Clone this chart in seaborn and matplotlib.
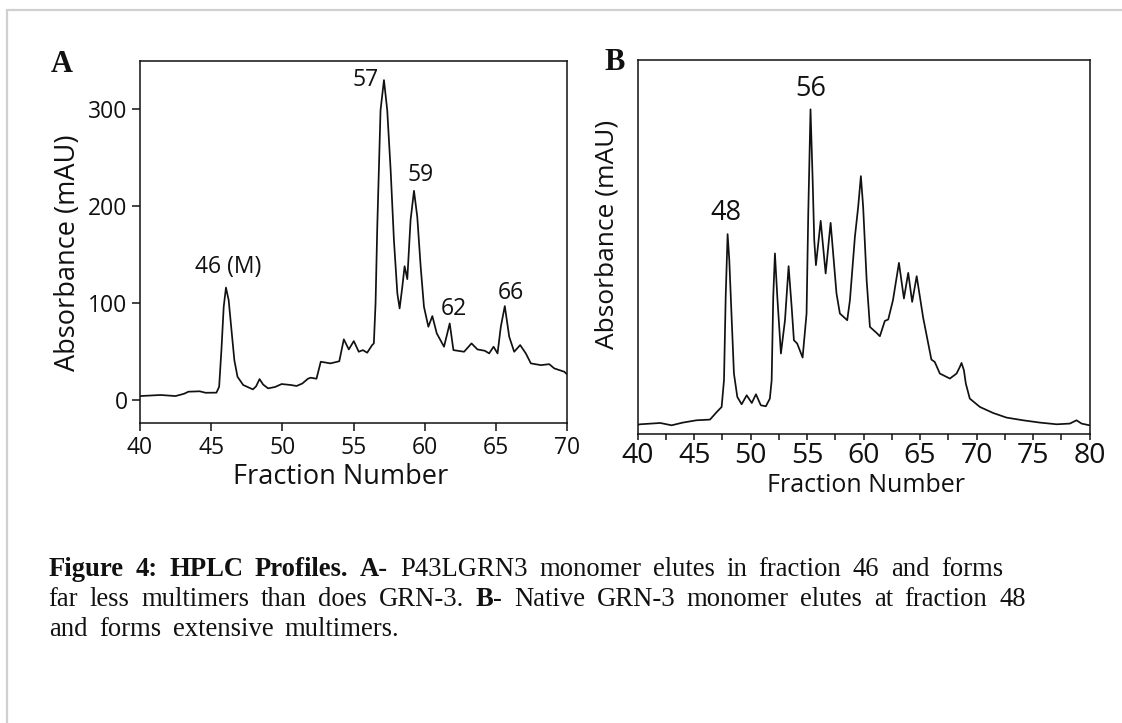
import matplotlib
matplotlib.use("Agg")
import matplotlib.pyplot as plt
import seaborn as sns
from matplotlib.lines import Line2D
from matplotlib.ticker import MultipleLocator

# ---------------- data ----------------
a_fraction = [40.0, 41.45, 42.5, 43.1, 43.4, 44.2, 44.6, 45.37, 45.56, 45.72, 45.88, 46.04,
              46.23, 46.45, 46.63, 46.85, 47.25, 47.93, 48.15, 48.4, 48.65, 49.0, 49.5,
              49.95, 50.6, 51.0, 51.4, 51.8, 52.0, 52.4, 52.7, 53.38, 54.0, 54.32, 54.67,
              55.02, 55.37, 55.66, 55.96, 56.31, 56.43, 56.55, 56.67, 56.90, 57.14, 57.37,
              57.61, 57.84, 58.08, 58.24, 58.43, 58.59, 58.78, 59.01, 59.25, 59.48, 59.72,
              59.95, 60.26, 60.54, 60.85, 61.36, 61.76, 62.02, 62.77, 63.29, 63.71, 64.23,
              64.53, 64.84, 65.12, 65.35, 65.63, 65.94, 66.29, 66.71, 67.11, 67.46, 68.17,
              68.75, 69.11, 69.81, 70.0]
a_absorbance = [4.1, 5.2, 4.1, 6.5, 8.6, 9.0, 7.5, 7.6, 13.7, 51.5, 96, 116,
                103, 68.7, 41, 24, 15.5, 11, 14, 21.6, 16, 12, 13.5,
                16.5, 15.5, 14.5, 17, 22, 23, 22, 39.5, 37.8, 40, 62.6, 52.2,
                60.8, 49.8, 51.5, 48.8, 56.7, 58.4, 100, 178.7, 299, 330, 299,
                237, 165, 110, 94.5, 116.8, 138, 124.7, 185.6, 215.8, 189, 137.4,
                96.2, 75.6, 86.6, 68.7, 55, 79, 51.5, 49.8, 58.4, 52.2, 50.8,
                48.1, 55, 48.1, 75.6, 96.9, 65.3, 49.8, 56.7, 48, 37.8, 36,
                37, 32.6, 29.2, 26.5]

b_fraction = [40.0, 40.2, 42.0, 43.0, 44.0, 45.2, 46.4, 47.0, 47.43, 47.64, 47.79, 47.96,
              48.11, 48.3, 48.52, 48.82, 49.2, 49.65, 50.1, 50.47, 50.9, 51.35, 51.7,
              51.86, 52.0, 52.15, 52.36, 52.68, 53.04, 53.36, 53.63, 53.83, 54.12, 54.6,
              54.95, 55.1, 55.3, 55.49, 55.63, 55.78, 56.2, 56.64, 57.08, 57.6, 57.9,
              58.55, 58.79, 59.23, 59.52, 59.76, 59.96, 60.27, 60.56, 61.15, 61.44, 61.88,
              62.18, 62.6, 63.13, 63.57, 63.95, 64.3, 64.7, 65.27, 66.0, 66.3, 66.75,
              67.64, 68.23, 68.52, 68.67, 68.88, 69.05, 69.4, 70.3, 71.47, 72.65, 74.12,
              75.6, 77.1, 78.26, 78.85, 79.3, 80.0]
b_absorbance = [9.5, 10, 11.3, 9, 11.7, 14, 14.7, 22.3, 27.3, 54, 137.3, 200,
                174, 121, 60.7, 37.3, 30, 39, 31.3, 40, 29, 28, 35.7,
                54, 137.3, 180.7, 137.3, 80.7, 114, 168, 127.3, 94, 90.7, 76.7,
                120.7, 220.7, 324.7, 254, 194, 169, 213.3, 160.7, 211.3, 140.7, 120.7,
                114, 134, 197.3, 227.3, 258, 227.3, 154, 107.3, 101.3, 98, 113.3,
                114.7, 134, 171.3, 135.7, 161.3, 132.3, 158, 116.7, 74.7, 72.3, 60.7,
                55.7, 60.7, 67.3, 71.3, 64, 50.7, 35.7, 27.3, 21.3, 16.7, 14,
                11.7, 10, 10.7, 14, 10.7, 9]

a_peak_labels = ["46 (M)", "57", "59", "62", "66"]
a_peak_x = [46.2, 55.83, 59.7, 62.02, 66.04]
a_peak_y = [137, 330, 232, 93.5, 110]

b_peak_labels = ["48", "56"]
b_peak_x = [47.8, 55.33]
b_peak_y = [220.7, 344.7]

a_xticks = [40, 45, 50, 55, 60, 65, 70]
a_yticks = [0, 100, 200, 300]
b_xticks = [40, 45, 50, 55, 60, 65, 70, 75, 80]

x_label = "Fraction Number"
y_label = "Absorbance (mAU)"

# caption runs: (text, bold?, space before?)
caption_lines = [
    [("Figure 4: HPLC Profiles. A-", True, False),
     ("P43LGRN3 monomer elutes in fraction 46 and forms", False, True)],
    [("far less multimers than does GRN-3.", False, False), ("B", True, True),
     ("- Native GRN-3 monomer elutes at fraction 48", False, False)],
    [("and forms extensive multimers.", False, False)],
]

# ---------------- figure ----------------
sns.set_theme(style="ticks")
plt.rcParams["font.family"] = ["Open Sans", "DejaVu Sans"]
plt.rcParams["axes.linewidth"] = 1.1
plt.rcParams["axes.edgecolor"] = "#111111"

W, H = 1122, 723
fig = plt.figure(figsize=(W / 100, H / 100), dpi=100)
fig.patch.set_facecolor("white")

def px_axes(l, t, r, b):
    return fig.add_axes([l / W, 1 - b / H, (r - l) / W, (b - t) / H])

axA = px_axes(140, 60.7, 567, 423.3)
axB = px_axes(637.7, 60, 1089.5, 434.3)

ink = "#111111"

# Panel A
sns.lineplot(x=a_fraction, y=a_absorbance, ax=axA, color=ink, linewidth=1.25,
             estimator=None, sort=False)
axA.set_xlim(40, 70)
axA.set_ylim(-24, 350)
axA.set_xticks(a_xticks)
axA.set_yticks(a_yticks)
axA.tick_params(axis="both", direction="out", length=6, width=1.1, pad=3,
                labelsize=16.5, colors=ink)
for s in axA.spines.values():
    s.set_visible(True)
    s.set_linewidth(1.1)
    s.set_color(ink)
axA.set_xlabel(x_label, fontsize=19.5, color=ink, va="center")
axA.xaxis.set_label_coords(0.471, -0.148)
axA.set_ylabel(y_label, fontsize=19.5, color=ink, va="center")
axA.yaxis.set_label_coords(-0.169, 0.471)
for lab, x, y in zip(a_peak_labels, a_peak_x, a_peak_y):
    axA.text(x, y, lab, ha="center", va="center", fontsize=16.5, color=ink)

# Panel B
sns.lineplot(x=b_fraction, y=b_absorbance, ax=axB, color=ink, linewidth=1.25,
             estimator=None, sort=False)
axB.set_xlim(40, 80)
axB.set_ylim(0, 374)
axB.set_xticks(b_xticks)
axB.xaxis.set_minor_locator(MultipleLocator(2.5))
axB.set_yticks([])
axB.tick_params(axis="x", which="both", direction="out", length=4.5, width=1.1,
                pad=0.8, labelsize=20.5, colors=ink)
for s in axB.spines.values():
    s.set_visible(True)
    s.set_linewidth(1.1)
    s.set_color(ink)
axB.set_xlabel(x_label, fontsize=18, color=ink, va="center")
axB.xaxis.set_label_coords(0.505, -0.136)
axB.set_ylabel(y_label, fontsize=19, color=ink, va="center")
axB.yaxis.set_label_coords(-0.068, 0.535)
for lab, x, y in zip(b_peak_labels, b_peak_x, b_peak_y):
    axB.text(x, y, lab, ha="center", va="center", fontsize=19.5, color=ink)

# Panel letters
fig.text(51 / W, 1 - 64 / H, "A", family="Liberation Serif", fontweight="bold",
         fontsize=22, ha="left", va="center", color=ink)
fig.text(604 / W, 1 - 63 / H, "B", family="Liberation Serif", fontweight="bold",
         fontsize=22, ha="left", va="center", color=ink)

# Light gray page border
fig.add_artist(Line2D([7 / W, 7 / W], [0, 1 - 10 / H], color="#d0d0d0", lw=1.6,
                      transform=fig.transFigure))
fig.add_artist(Line2D([7 / W, 1], [1 - 10 / H, 1 - 10 / H], color="#d0d0d0", lw=1.6,
                      transform=fig.transFigure))

# Caption: word-by-word placement, lightly spread toward the reference line ends
renderer = fig.canvas.get_renderer()
cap_size = 19.2
cap_font = "Liberation Serif"

def text_w(s, bold):
    t = fig.text(0, 0, s, family=cap_font, fontsize=cap_size,
                 fontweight="bold" if bold else "normal")
    w = t.get_window_extent(renderer).width
    t.remove()
    return w

space_w = text_w("x x", False) - text_w("xx", False)

line_left = 48.7
line_right = [1037, 1055, 417]
baselines = [576, 606, 636]

for line, yb, xr in zip(caption_lines, baselines, line_right):
    tokens = []
    for txt, bold, sp in line:
        words = txt.split(" ")
        for i, wd in enumerate(words):
            gap = sp if i == 0 else True
            tokens.append((wd, bold, gap and len(tokens) > 0))
    widths = [text_w(wd, b) for wd, b, _ in tokens]
    n_gaps = sum(1 for _, _, g in tokens if g)
    natural = sum(widths) + n_gaps * space_w
    extra = (xr - line_left - natural) / max(n_gaps, 1)
    extra = min(max(0.0, extra), 5.0)
    xpos = line_left
    for (wd, b, g), w in zip(tokens, widths):
        if g:
            xpos += space_w + extra
        fig.text(xpos / W, 1 - yb / H, wd, family=cap_font, fontsize=cap_size,
                 fontweight="bold" if b else "normal", ha="left", va="baseline",
                 color=ink)
        xpos += w

fig.savefig("out.png", dpi=100, facecolor="white")
